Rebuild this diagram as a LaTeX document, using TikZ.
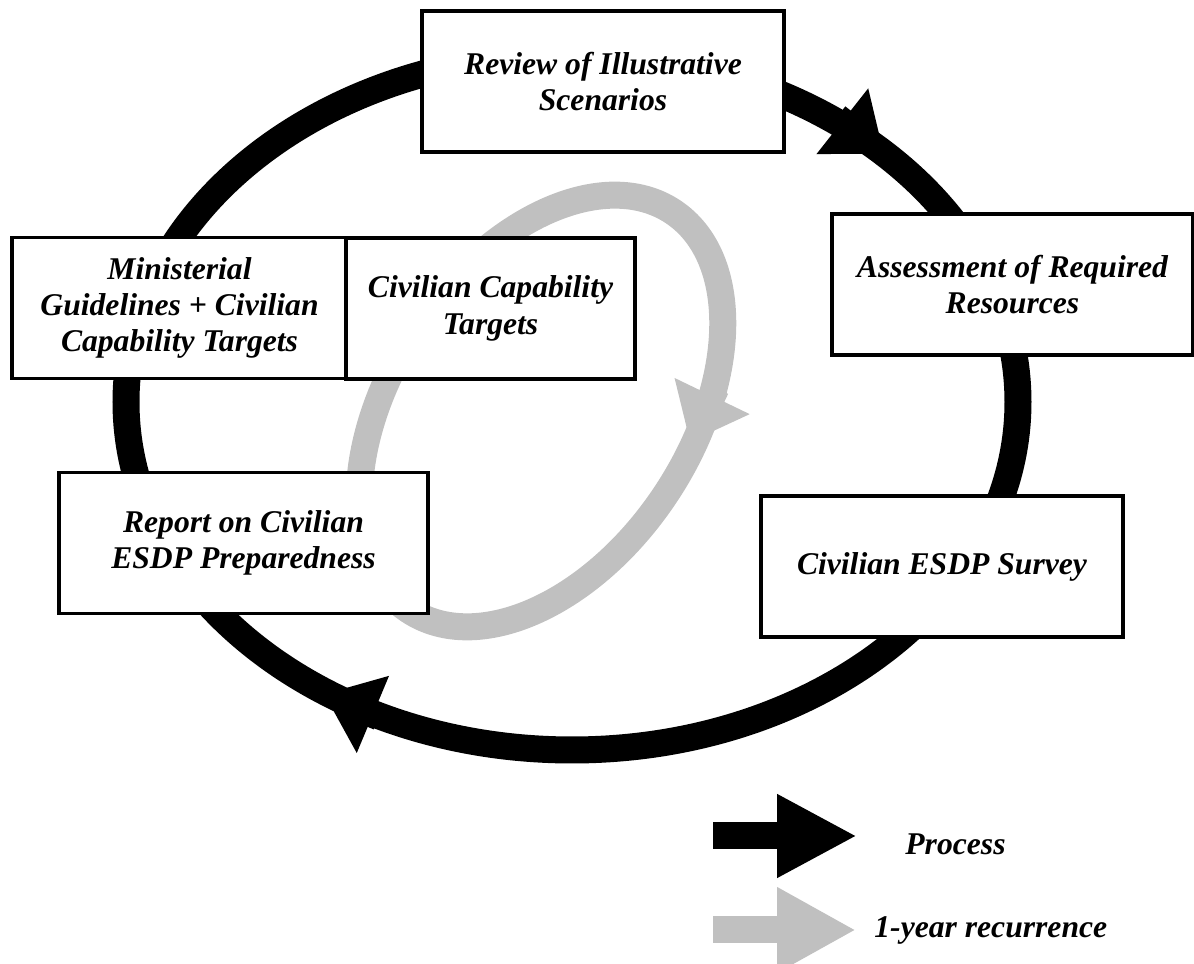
\documentclass[tikz,border=0pt]{standalone}
\usepackage{fontspec}
\setmainfont{Liberation Serif}
\usetikzlibrary{arrows.meta}
\definecolor{recgray}{RGB}{192,192,192}

\begin{document}
\begin{tikzpicture}[
        stage/.style={draw,line width=1pt,fill=white,align=center,inner sep=2pt,
            minimum height=1.41cm,font=\fontsize{9}{10.3}\selectfont\bfseries\itshape},
        proc/.style={line width=0.27cm,black},
        recur/.style={line width=0.27cm,recgray},
        legtext/.style={anchor=west,font=\fontsize{9}{10.3}\selectfont\bfseries\itshape}
    ]
    \useasboundingbox (0,0) rectangle (11.94,9.64);

    % process cycle
    \draw[proc] (5.72,5.62) ellipse (4.46 and 3.48);
    \draw[proc,-{Triangle[width=0.8cm,length=0.53cm]}] (8.37,8.47) -- (8.84,8.10);
    \draw[proc,-{Triangle[width=0.8cm,length=0.53cm]}] (3.79,2.47) -- (3.24,2.70);

    % yearly loop
    \draw[recur,rotate around={56.5:(5.41,5.53)}] (5.41,5.53) ellipse (2.39 and 1.50);
    \draw[recur,-{Triangle[width=0.8cm,length=0.51cm]}] (7.16,5.76) -- (6.90,5.22);

    \node[stage,minimum width=3.62cm] (review) at (6.03,8.825) {Review of Illustrative\\Scenarios};
    \node[stage,minimum width=3.61cm] (assess) at (10.125,6.795) {Assessment of Required\\Resources};
    \node[stage,minimum width=3.62cm] (survey) at (9.42,3.975) {Civilian ESDP Survey};
    \node[stage,minimum width=3.69cm] (report) at (2.435,4.21) {Report on Civilian\\ESDP Preparedness};
    \node[stage,minimum width=3.35cm] (guide) at (1.795,6.56) {Ministerial\\Guidelines + Civilian\\Capability Targets};
    \node[stage,minimum width=2.89cm] (targets) at (4.905,6.555) {Civilian Capability\\Targets};

    % legend
    \draw[proc,-{Triangle[width=0.78cm,length=0.8cm]}] (7.13,1.28) -- (8.57,1.28);
    \node[legtext] (proclab) at (8.93,1.20) {Process};
    \draw[recur,-{Triangle[width=0.8cm,length=0.79cm]}] (7.13,0.34) -- (8.56,0.34);
    \node[legtext] (reclab) at (8.62,0.34) {1-year recurrence};
\end{tikzpicture}
\end{document}
